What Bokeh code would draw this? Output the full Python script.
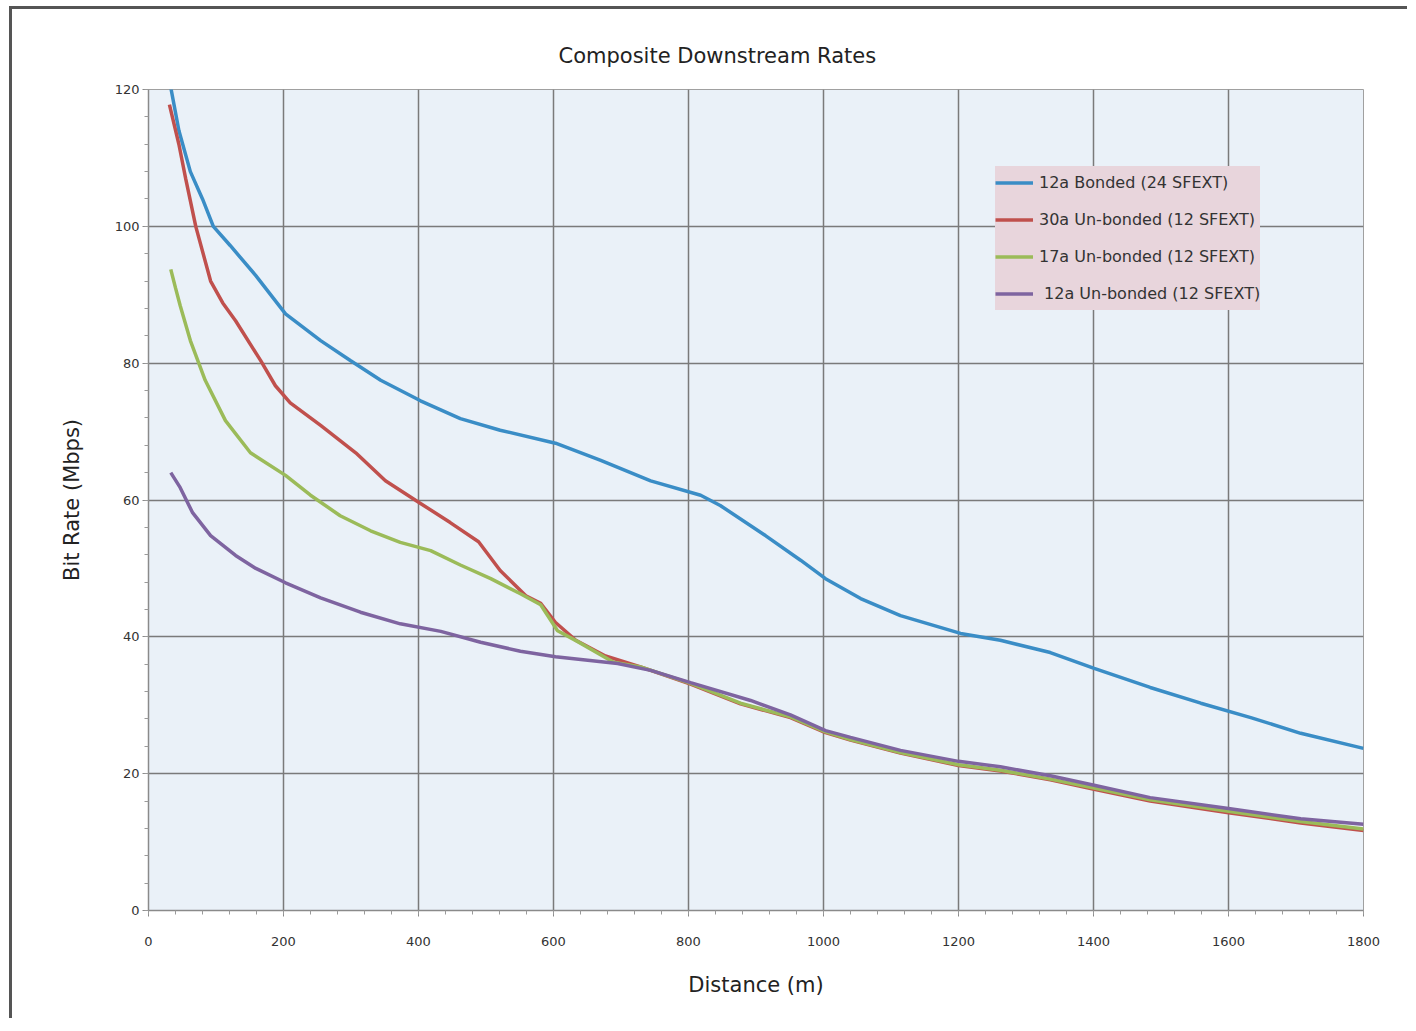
from bokeh.plotting import figure
from bokeh.models import FixedTicker, Range1d, Legend, LegendItem, Title
from bokeh.embed import file_html
from bokeh.resources import INLINE

# ---- data ----
blue_x = [33, 45, 62, 80, 96, 121, 159, 203, 255, 299, 344, 403, 462, 521, 603, 670, 744, 818, 847, 914, 966, 1003, 1055, 1114, 1203, 1262, 1336, 1401, 1484, 1559, 1633, 1707, 1800]
blue_y = [120.3, 114, 108, 104, 100.0, 97.2, 92.8, 87.2, 83.3, 80.4, 77.5, 74.5, 71.9, 70.2, 68.3, 65.8, 62.8, 60.7, 59.2, 54.8, 51.2, 48.5, 45.6, 43.1, 40.5, 39.5, 37.7, 35.4, 32.6, 30.3, 28.2, 25.9, 23.7]

red_x = [31, 45, 55, 70, 92, 110, 129, 166, 188, 210, 255, 307, 351, 403, 447, 489, 521, 559, 581, 603, 633, 677, 729, 803, 877, 951, 1003, 1040, 1114, 1200, 1262, 1336, 1401, 1484, 1600, 1707, 1800]
red_y = [117.8, 112, 107, 100, 92, 88.8, 86.2, 80.4, 76.7, 74.2, 70.9, 66.9, 62.8, 59.5, 56.7, 53.9, 49.7, 46, 44.9, 42.1, 39.5, 37.2, 35.6, 33.1, 30.2, 28.2, 26.0, 24.9, 23.0, 21.2, 20.4, 19.1, 17.7, 16.0, 14.3, 12.8, 11.7]

green_x = [33, 40, 47, 62, 84, 114, 151, 203, 240, 284, 329, 373, 418, 462, 507, 551, 581, 606, 636, 689, 729, 803, 877, 951, 1003, 1040, 1114, 1200, 1262, 1336, 1401, 1484, 1600, 1707, 1800]
green_y = [93.7, 91, 88.4, 83.3, 77.5, 71.6, 66.9, 63.6, 60.7, 57.7, 55.5, 53.8, 52.6, 50.5, 48.5, 46.3, 44.7, 40.9, 39.3, 36.3, 35.6, 33.2, 30.3, 28.3, 26.1, 25.0, 23.1, 21.3, 20.5, 19.2, 17.9, 16.2, 14.5, 13.0, 11.9]

purple_x = [33, 47, 65, 92, 129, 159, 203, 255, 314, 373, 433, 492, 551, 603, 695, 744, 803, 892, 951, 1003, 1040, 1114, 1200, 1262, 1336, 1401, 1484, 1600, 1707, 1800]
purple_y = [64, 61.8, 58.2, 54.8, 51.9, 50, 47.9, 45.7, 43.6, 41.9, 40.8, 39.2, 37.9, 37.1, 36.1, 35.1, 33.3, 30.7, 28.6, 26.3, 25.3, 23.4, 21.8, 21.0, 19.7, 18.3, 16.5, 14.9, 13.4, 12.6]

series_labels = ["12a Bonded (24 SFEXT)", "30a Un-bonded (12 SFEXT)", "17a Un-bonded (12 SFEXT)", " 12a Un-bonded (12 SFEXT)"]
x_ticks = [0, 200, 400, 600, 800, 1000, 1200, 1400, 1600, 1800]
y_ticks = [0, 20, 40, 60, 80, 100, 120]

FONT = "DejaVu Sans"

p = figure(frame_width=1215, frame_height=821,
           min_border_left=136, min_border_right=44, min_border_top=80, min_border_bottom=108,
           x_range=Range1d(0, 1800), y_range=Range1d(0, 120),
           output_backend="svg", toolbar_location=None, title=None)

p.styles = {"border-left": "3px solid #555555", "border-top": "3px solid #555555",
            "margin-left": "9px", "margin-top": "6px"}
p.background_fill_color = "#EAF1F8"
p.border_fill_color = "white"
p.outline_line_color = "#A0A0A0"
p.outline_line_width = 1

t = Title(text="Composite Downstream Rates", align="left", offset=410, standoff=44,
          text_font=FONT, text_font_size="21px", text_font_style="normal", text_color="#222222")
p.add_layout(t, "above")

p.xaxis.ticker = FixedTicker(ticks=x_ticks, minor_ticks=list(range(0, 1801, 40)))
p.yaxis.ticker = FixedTicker(ticks=y_ticks, minor_ticks=list(range(0, 121, 4)))

for ax in (p.xaxis[0], p.yaxis[0]):
    ax.axis_line_color = "#8A8A8A"
    ax.axis_line_width = 1.5
    ax.major_tick_line_color = "#8A8A8A"
    ax.major_tick_in = 0
    ax.major_tick_out = 6
    ax.minor_tick_line_color = "#9A9A9A"
    ax.minor_tick_in = 0
    ax.minor_tick_out = 4
    ax.major_label_text_font = FONT
    ax.major_label_text_font_size = "13px"
    ax.major_label_text_color = "#333333"
    ax.axis_label_text_font = FONT
    ax.axis_label_text_font_size = "21px"
    ax.axis_label_text_font_style = "normal"
    ax.axis_label_text_color = "#222222"

p.xaxis.axis_label = "Distance (m)"
p.yaxis.axis_label = "Bit Rate (Mbps)"
p.xaxis.major_label_standoff = 20
p.yaxis.major_label_standoff = 3
p.xaxis.axis_label_standoff = 24
p.yaxis.axis_label_standoff = 28

p.grid.grid_line_color = "#7A7A7A"
p.grid.grid_line_width = 1.5

colors = ["#3A8DC6", "#C0504D", "#9BBB59", "#7E64A0"]
xs = [blue_x, red_x, green_x, purple_x]
ys = [blue_y, red_y, green_y, purple_y]
renderers = []
for x, y, c in zip(xs, ys, colors):
    r = p.line(x, y, line_color=c, line_width=3.5)
    renderers.append(r)

legend = Legend(items=[LegendItem(label=lab, renderers=[r]) for lab, r in zip(series_labels, renderers)],
                location=(847, 600), orientation="vertical",
                background_fill_color="#E8D5DC", background_fill_alpha=1.0,
                border_line_color=None,
                label_text_font=FONT, label_text_font_size="16px", label_text_color="#333333",
                glyph_width=38, glyph_height=33, label_height=33, label_standoff=6,
                spacing=4, padding=6, margin=0)
p.add_layout(legend, "center")

open("out.html", "w").write(file_html(p, INLINE))
